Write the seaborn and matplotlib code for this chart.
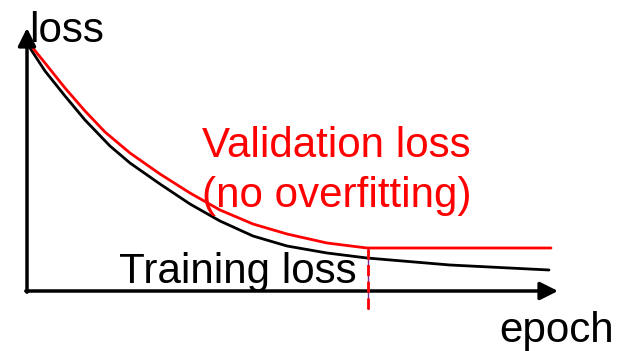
import matplotlib
matplotlib.use("Agg")
import matplotlib.pyplot as plt
import seaborn as sns

# Schematic loss curves (arbitrary units)
val_epochs = [1, 18, 38, 58, 78, 103, 133, 163, 193, 226, 260, 300, 340, 524]
val_loss = [249, 228, 203, 180, 159, 138, 117, 98, 81, 67, 57, 48, 43, 43]

train_epochs = [1, 18, 38, 58, 83, 103, 133, 163, 193, 226, 260, 300, 340, 423, 522]
train_loss = [246, 220, 195, 171, 145, 128, 107, 87, 70, 55, 45, 38, 33, 26, 21]

stop_epoch = 341
stop_range = [-18, 42]

labels = ["loss", "epoch", "Validation loss", "(no overfitting)", "Training loss"]

sns.set_style("white")
plt.rcParams["font.family"] = ["Liberation Sans", "DejaVu Sans"]

fig = plt.figure(figsize=(6.19, 3.51), dpi=100)
ax = fig.add_axes([0, 0, 1, 1])
ax.set_xlim(-27, 592)
ax.set_ylim(-60, 291)
ax.axis("off")

# axes drawn as arrows
arrow = dict(arrowstyle="-|>", lw=2.5, color="black", mutation_scale=27, shrinkA=0, shrinkB=0)
ax.annotate("", xy=(0, 263), xytext=(0, -1.2), arrowprops=arrow)
ax.annotate("", xy=(531, 0), xytext=(-1.2, 0), arrowprops=arrow)

sns.lineplot(x=train_epochs, y=train_loss, ax=ax, color="black", lw=2,
             estimator=None, sort=False)
sns.lineplot(x=val_epochs, y=val_loss, ax=ax, color="#ff0000", lw=2,
             estimator=None, sort=False)

# early-stopping marker
ax.plot([stop_epoch, stop_epoch], stop_range, color="#7a2a8a", lw=1, zorder=3)
ax.plot([stop_epoch, stop_epoch], stop_range, color="#ff0000", lw=2,
        dashes=(4, 2), zorder=4)

fs = 30.3
ax.text(2, 249, labels[0], fontsize=fs, color="black", ha="left", va="baseline")
ax.text(472, -51, labels[1], fontsize=fs, color="black", ha="left", va="baseline")
ax.text(175, 134, labels[2], fontsize=fs, color="#ff0000", ha="left", va="baseline")
ax.text(175, 84, labels[3], fontsize=fs, color="#ff0000", ha="left", va="baseline")
ax.text(92, 8, labels[4], fontsize=fs, color="black", ha="left", va="baseline")

fig.savefig("out.png", dpi=100, facecolor="white")
